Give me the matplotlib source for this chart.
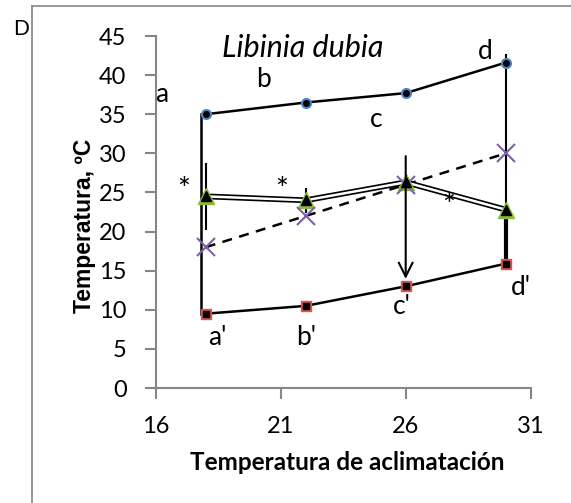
import matplotlib
matplotlib.use('Agg')
import matplotlib.pyplot as plt
from matplotlib.lines import Line2D

# temperaturas de aclimatación
acclim = [18, 22, 26, 30]
ct_max = [35.0, 36.5, 37.7, 41.6]      # puntos a, b, c, d
ct_min = [9.5, 10.5, 13.0, 15.9]       # puntos a', b', c', d'
pref = [24.5, 24.0, 26.3, 22.8]        # triángulos
pref_err = [4.3, 1.6, 0.0, 0.0]
identity = [18, 22, 26, 30]            # línea y = x

max_labels = ['a', 'b', 'c', 'd']
min_labels = ["a'", "b'", "c'", "d'"]

GRAY = '#868686'

fig = plt.figure(figsize=(5.71, 5.03), dpi=100)
ax = fig.add_axes([0.2727, 0.2286, 0.6567, 0.6998])

# marco de la figura
fig.add_artist(Line2D([0.056, 0.056], [0, 0.988], color=GRAY, lw=1.2))
fig.add_artist(Line2D([0.056, 1.0], [0.988, 0.988], color=GRAY, lw=1.2))

# polígono de tolerancia
ax.plot(acclim, ct_max, color='black', lw=1.8, zorder=3)
ax.plot(acclim, ct_min, color='black', lw=1.8, zorder=3)
ax.plot([17.8, 17.8], [ct_max[0], ct_min[0]], color='black', lw=1.8, zorder=3)
ax.plot([30, 30], [42.6, ct_min[3] - 0.4], color='black', lw=1.5, zorder=3)
ax.plot([30, 30], [pref[3], ct_min[3]], color='black', lw=3, zorder=3)

ax.plot(acclim, ct_max, 'o', ms=7, color='#4a86c6', zorder=4)
ax.plot(acclim, ct_max, 'o', ms=4, color='black', zorder=5)
ax.plot(acclim, ct_min, 's', ms=7, color='#d9534f', zorder=4)
ax.plot(acclim, ct_min, 's', ms=4.5, color='black', zorder=5)

# línea y = x
ax.plot(acclim, identity, '--', color='black', lw=1.8, dashes=(4, 3), zorder=3)
ax.plot(acclim, identity, 'x', ms=13, mew=1.5, color='#7f5fa8', zorder=6)

# preferencia (línea doble)
ax.errorbar(acclim, pref, yerr=pref_err, fmt='none', ecolor='black', elinewidth=1.5, zorder=3)
ax.plot(acclim, pref, color='black', lw=4.2, zorder=4)
ax.plot(acclim, pref, color='white', lw=1.8, zorder=4)
ax.plot(acclim, pref, '^', ms=12, color='#8ab83c', zorder=5)
ax.plot(acclim, pref, '^', ms=7.5, color='black', zorder=6)

# flecha en 26
ax.annotate('', xy=(26, 13.6), xytext=(26, 30),
            arrowprops=dict(arrowstyle='->,head_length=1.0,head_width=0.5', color='black', lw=1.5),
            zorder=7)

fs = 17
ax.text(21.9, 43.5, 'Libinia dubia', style='italic', fontsize=22, ha='center', va='center',
        family='Lato')
for lab, px, py in zip(max_labels, [16.25, 20.3, 24.8, 29.2], [37.5, 39.4, 34.3, 43.0]):
    ax.text(px, py, lab, fontsize=19, ha='center', va='center', family='Lato')
for lab, px, py in zip(min_labels, [18.45, 22.0, 25.85, 30.6], [6.4, 6.4, 10.4, 12.9]):
    ax.text(px, py, lab, fontsize=19, ha='center', va='center', family='Lato')
for px, py in zip([17.1, 21.05, 27.7], [25.3, 25.3, 23.3]):
    ax.text(px, py, '*', fontsize=22, ha='center', va='center', family='Lato', zorder=8)

fig.text(0.037, 0.942, 'D', fontsize=15, ha='center', va='center', family='Lato')

ax.set_xlim(16, 31)
ax.set_ylim(0, 45)
ax.set_xticks([16, 21, 26, 31])
ax.set_yticks(range(0, 46, 5))
for s in ['top', 'right']:
    ax.spines[s].set_visible(False)
for s in ['left', 'bottom']:
    ax.spines[s].set_color(GRAY)
    ax.spines[s].set_linewidth(1.5)
ax.tick_params(direction='out', length=8, width=1.5, color=GRAY, labelsize=fs)
ax.tick_params(axis='y', pad=13)
ax.tick_params(axis='x', pad=12)
for t in ax.get_xticklabels() + ax.get_yticklabels():
    t.set_family('Lato')

ax.set_xlabel('Temperatura de aclimatación', fontsize=17.5, fontweight='bold', family='Lato')
ax.xaxis.set_label_coords(0.51, -0.18)
ax.set_ylabel('Temperatura, ºC', fontsize=16.5, fontweight='bold', family='Liberation Sans')
ax.yaxis.set_label_coords(-0.16, 0.46)

fig.savefig('out.png', dpi=100)
